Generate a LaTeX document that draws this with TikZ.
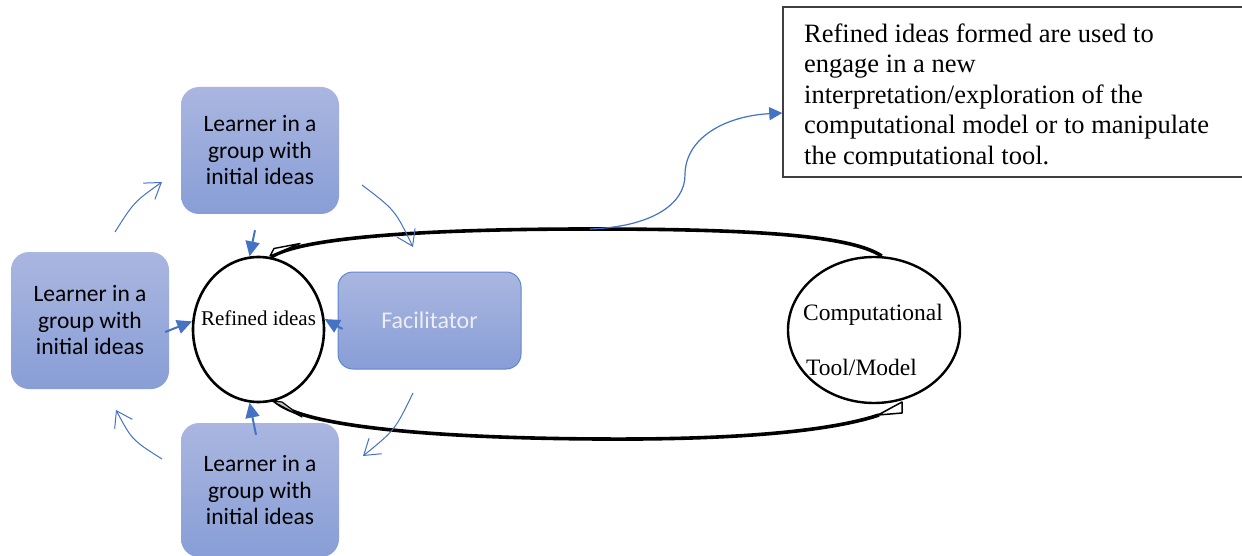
\documentclass[tikz,border=0pt]{standalone}
\usepackage{fontspec}
\setmainfont{Liberation Serif}
\newfontfamily\calibri{Carlito}
\usetikzlibrary{arrows.meta,shapes.geometric}
\definecolor{boxtop}{RGB}{170,182,224}
\definecolor{boxbot}{RGB}{136,158,214}
\definecolor{accent}{RGB}{68,114,196}
\definecolor{facborder}{RGB}{95,135,210}
\definecolor{factext}{RGB}{236,237,245}
\definecolor{notegray}{RGB}{64,64,64}
\begin{document}
\begin{tikzpicture}[x=1pt,y=-1pt,
  learner/.style={rounded corners=18pt, top color=boxtop, bottom color=boxbot, draw=none,
    minimum width=158pt, align=center, inner sep=0pt,
    font=\calibri\fontsize{23.5}{26.5}\selectfont},
  facbox/.style={rounded corners=15pt, top color=boxtop, bottom color=boxbot, draw=facborder,
    line width=1pt, minimum width=183pt, minimum height=97pt, inner sep=0pt,
    text=factext, font=\calibri\fontsize{24}{28}\selectfont},
  bubble/.style={ellipse, draw=black, fill=white, line width=2.6pt, inner sep=0pt},
  loopline/.style={draw=black, line width=3.6pt},
  farrow/.style={draw=accent, line width=2pt, -{Triangle[length=15pt,width=14pt]}, color=accent},
  oarrow/.style={draw=accent, line width=1pt, -{Straight Barb[length=15pt,width=20pt]}},
  tarrow/.style={draw=accent, line width=1.2pt, -{Triangle[length=13pt,width=13pt]}, color=accent},
  serif/.style={inner sep=0pt, font=\fontsize{#1}{#1}\selectfont}
]
\useasboundingbox (0,0) rectangle (1242,556);
\clip (0,0) rectangle (1242,556);
\fill[white] (0,0) rectangle (1242,556);

% learner boxes and facilitator
\node[learner, minimum height=127pt] (ltop) at (260,150.5) {Learner in a\\group with\\initial ideas};
\node[learner, minimum height=137pt] (lleft) at (90,320.5) {Learner in a\\group with\\initial ideas};
\node[learner, minimum height=134pt] (lbot) at (260,490) {Learner in a\\group with\\initial ideas};
\node[facbox] (fac) at (429.5,320.5) {Facilitator};

% bubbles
\node[bubble, minimum width=131pt, minimum height=145pt] (ref) at (258.5,329.5) {};
\node[serif=21] (reftext) at (258.5,318.5) {Refined ideas};
\node[bubble, line width=2.4pt, fill=none, minimum width=172pt, minimum height=146pt] (comp) at (874,330) {};
\node[serif=23.5, anchor=base west] (comp1) at (803,320.5) {Computational};
\node[serif=23.5, anchor=base west] (comp2) at (806,375.5) {Tool/Model};

% big loop
\draw[loopline] (ref.80) .. controls (300,238) and (420,229) .. (590,229)
  .. controls (760,229) and (852,236) .. (comp.84);
\coordinate (src) at (590,229);
\draw[line width=1.4pt, fill=white, line join=round] (270,256) -- (274,248.5) -- (300,243.5) -- cycle;
\draw[loopline] (ref.283) .. controls (300,425) and (420,438) .. (600,439)
  .. controls (760,440) and (840,428) .. (879,415);
\filldraw[fill=gray!45, line width=1.2pt, line join=round] (272,401) -- (282,402) -- (302,417) -- cycle;
\draw[line width=1.5pt, fill=white, line join=round] (878,415) -- (902,402) -- (902,413) -- cycle;

% note box
\node[draw=notegray, line width=1.5pt, minimum width=479pt, minimum height=170pt, inner sep=0pt] (note) at (1022.5,92) {};
\begin{scope}
  \clip (783,7) rectangle (1262,166);
  \node[anchor=north west, align=left, inner sep=0pt, font=\fontsize{26.5}{30.5}\selectfont] (notetext) at (804,23.6)
    {Refined ideas formed are used to\\engage in a new\\interpretation/exploration of the\\computational model or to manipulate\\the computational tool.};
\end{scope}

% filled arrows into refined ideas
\draw[farrow] ([xshift=-5pt,yshift=-16pt]ltop.south) -- (ref.97);
\draw[farrow] ([xshift=-4pt,yshift=-11.5pt]lleft.east) -- (ref.173);
\draw[farrow] ([xshift=5pt,yshift=-8.5pt]fac.west) -- (ref.9);
\draw[farrow] ([xshift=-4pt,yshift=-12pt]lbot.north) -- (ref.263);

% open cycle arrows
\coordinate (c1s) at (115,232); \coordinate (c1e) at (162,182);
\coordinate (c2s) at (362,185); \coordinate (c2e) at (413,247);
\coordinate (c3s) at (413,393); \coordinate (c3e) at (363,456);
\coordinate (c4s) at (162,459); \coordinate (c4e) at (116,410);
\draw[oarrow] (c1s) .. controls (134,202) .. (c1e);
\draw[oarrow] (c2s) .. controls (395,210) .. (c2e);
\draw[oarrow] (c3s) .. controls (395,430) .. (c3e);
\draw[oarrow] (c4s) .. controls (132,440) .. (c4e);

% arrow to note
\draw[tarrow] (src) .. controls (650,227) and (685,205) .. (685,175)
  .. controls (685,138) and (725,116) .. ([yshift=-21pt]note.west);
\end{tikzpicture}
\end{document}
